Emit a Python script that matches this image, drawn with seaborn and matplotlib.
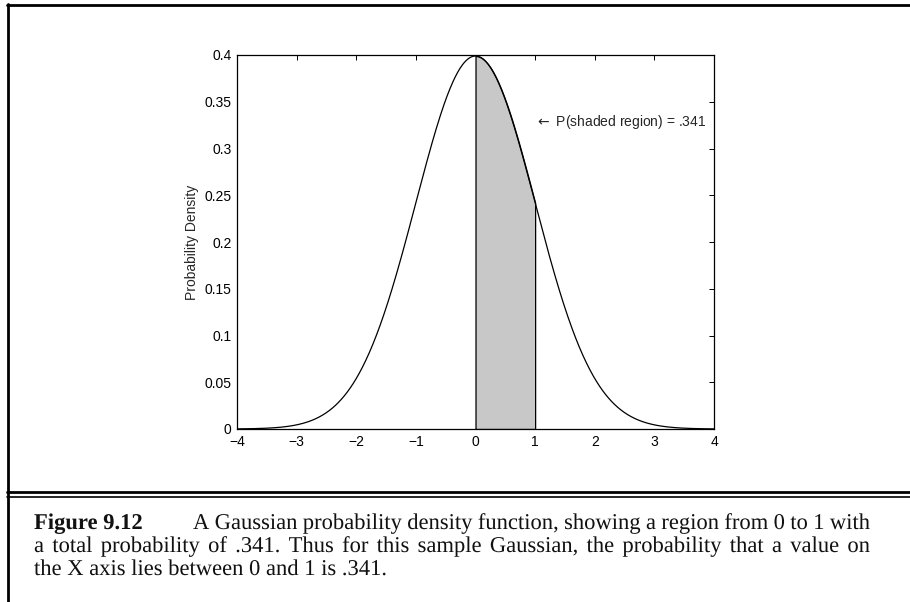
import numpy as np
import matplotlib.pyplot as plt
import seaborn as sns
from matplotlib.lines import Line2D
from matplotlib.textpath import TextPath
from matplotlib.patches import PathPatch
from matplotlib.font_manager import FontProperties
from matplotlib.transforms import Affine2D

# --- data -----------------------------------------------------------------
mu = 0.0
sigma = 1.0
x_min, x_max = -4, 4
shade_from, shade_to = 0, 1
x_ticks = [-4, -3, -2, -1, 0, 1, 2, 3, 4]
x_tick_labels = ["\u22124", "\u22123", "\u22122", "\u22121", "0", "1", "2", "3", "4"]
y_ticks = [0, 0.05, 0.1, 0.15, 0.2, 0.25, 0.3, 0.35, 0.4]
y_tick_labels = ["0", "0.05", "0.1", "0.15", "0.2", "0.25", "0.3", "0.35", "0.4"]
y_label = "Probability Density"
note_text = r"$\leftarrow$ P(shaded region) = .341"
note_xy = (1.0, 0.328)

caption_head = "Figure 9.12"
caption_lines = [
    "A Gaussian probability density function, showing a region from 0 to 1 with",
    "a total probability of .341. Thus for this sample Gaussian, the probability that a value on",
    "the X axis lies between 0 and 1 is .341.",
]

# --- style ----------------------------------------------------------------
sns.set_theme(style="white")
plt.rcParams["font.family"] = ["Liberation Sans", "DejaVu Sans"]
plt.rcParams.update({
    "xtick.direction": "in", "ytick.direction": "in",
    "xtick.major.size": 3.6, "ytick.major.size": 3.6,
    "xtick.major.width": 0.7, "ytick.major.width": 0.7,
    "xtick.top": True, "ytick.right": True,
    "axes.linewidth": 0.9, "axes.edgecolor": "black",
    "xtick.color": "black", "ytick.color": "black",
    "mathtext.fontset": "dejavusans",
})

W, H = 910, 602
fig = plt.figure(figsize=(W / 100, H / 100), dpi=100)
ax = fig.add_axes([237 / W, 1 - 429 / H, (714 - 237) / W, (429 - 55) / H])

x = np.linspace(x_min, x_max, 801)
pdf = np.exp(-0.5 * ((x - mu) / sigma) ** 2) / (sigma * np.sqrt(2 * np.pi))
sns.lineplot(x=x, y=pdf, color="black", linewidth=0.9, ax=ax)

mask = (x >= shade_from) & (x <= shade_to)
ax.fill_between(x[mask], 0, pdf[mask], facecolor="#c8c8c8",
                edgecolor="black", linewidth=0.9)

ax.set_xlim(x_min, x_max)
ax.set_ylim(0, 0.4)
ax.set_xticks(x_ticks, x_tick_labels)
ax.set_yticks(y_ticks, y_tick_labels)
ax.tick_params(labelsize=10, pad=4)
ax.set_ylabel(y_label, fontsize=10, labelpad=4)
ax.set_xlabel("")
ax.text(note_xy[0], note_xy[1], note_text, fontsize=10, ha="left", va="center")

# --- page frame -------------------------------------------------------------
def fx(px):
    return px / W


def fy(py):
    return 1 - py / H


fig.add_artist(Line2D([fx(7.5), fx(7.5)], [fy(4), fy(H)], color="black", lw=2.0))
fig.add_artist(Line2D([fx(6.5), 1], [fy(5), fy(5)], color="black", lw=2.0))
fig.add_artist(Line2D([fx(6.5), 1], [fy(491.5), fy(491.5)], color="black", lw=2.0))
fig.add_artist(Line2D([fx(6.5), 1], [fy(496.5), fy(496.5)], color="black", lw=1.2))

# --- justified caption (drawn as text paths, pixel units) ---------------------
regular = FontProperties(family="Liberation Serif")
bold = FontProperties(family="Liberation Serif", weight="bold")
left, right = 34, 870
baselines = [529, 552, 575]
last_line_width = 353  # the short last line runs from the margin to about x=387


def advance(word, prop, size):
    bar = TextPath((0, 0), "|", size=size, prop=prop).get_extents().x1
    return TextPath((0, 0), word + "|", size=size, prop=prop).get_extents().x1 - bar


# fit the font size so the last (unjustified) line has the reference width
base = 22.0
cap_px = base * last_line_width / advance(caption_lines[2], regular, base)


def place(text, prop, x_px, y_px):
    path = TextPath((0, 0), text, size=cap_px, prop=prop)
    fig.add_artist(PathPatch(path, transform=Affine2D().translate(x_px, H - y_px),
                             facecolor="#111111", edgecolor="none"))


def put_words(words, x0, x1, y):
    widths = [advance(w, regular, cap_px) for w in words]
    gap = (x1 - x0 - sum(widths)) / max(len(words) - 1, 1)
    pos = x0
    for w, wd in zip(words, widths):
        place(w, regular, pos, y)
        pos += wd + gap


place(caption_head, bold, left, baselines[0])
put_words(caption_lines[0].split(), 193, right, baselines[0])
put_words(caption_lines[1].split(), left, right, baselines[1])
place(caption_lines[2], regular, left, baselines[2])

fig.savefig("out.png", dpi=100, facecolor="white")
plt.close(fig)
